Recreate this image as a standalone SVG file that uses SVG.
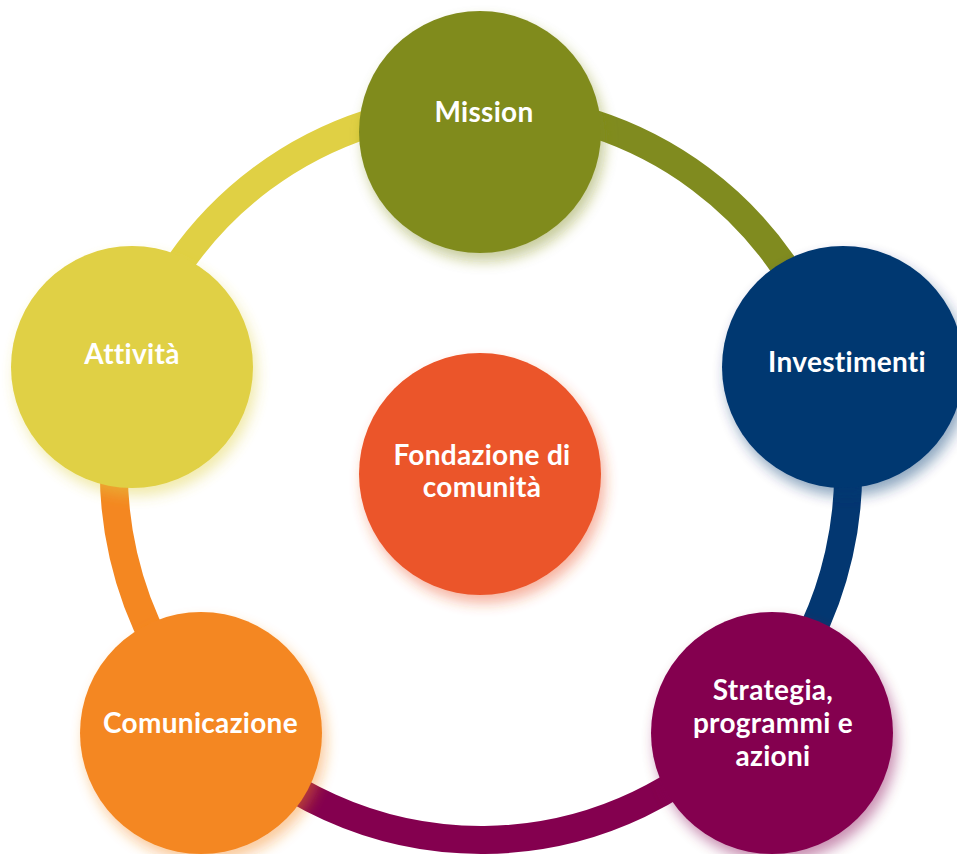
<svg xmlns="http://www.w3.org/2000/svg" width="957" height="854" viewBox="0 0 957 854">
  <defs>
    <filter id="glow" x="-30%" y="-30%" width="160%" height="160%">
      <feGaussianBlur in="SourceGraphic" stdDeviation="7" result="b"/>
      <feOffset in="b" dx="4" dy="8" result="o"/>
      <feComponentTransfer in="o" result="s">
        <feFuncA type="linear" slope="0.45"/>
      </feComponentTransfer>
      <feMerge>
        <feMergeNode in="s"/>
        <feMergeNode in="SourceGraphic"/>
      </feMerge>
    </filter>
  </defs>
  <style>
    .seg { fill: none; stroke-width: 28; stroke-linecap: butt; }
    .node { filter: url(#glow); }
    .lbl { font-family: Lato, "Open Sans", "Liberation Sans", sans-serif; font-weight: 700; font-size: 28px; letter-spacing: 0.3px; font-variant-ligatures: none; fill: #ffffff; text-anchor: middle; }
  </style>
  <rect width="957" height="854" fill="#ffffff"/>
  <g id="connectors">
    <path class="seg" stroke="#E0D044" d="M129.9,366.3 A367,367 0 0 1 479.7,106"/>
    <path class="seg" stroke="#808B1F" d="M479.7,106 A367,367 0 0 1 833.2,370"/>
    <path class="seg" stroke="#033771" d="M833.2,370 A367,367 0 0 1 754.6,717.6"/>
    <path class="seg" stroke="#84004F" d="M754.6,717.6 A367,367 0 0 1 212.2,722.8"/>
    <path class="seg" stroke="#F48721" d="M212.2,722.8 A367,367 0 0 1 129.9,366.3"/>
  </g>
  <g id="mission">
    <circle class="node" cx="480" cy="132" r="121" fill="#808B1F"/>
    <text class="lbl" x="484" y="122">Mission</text>
  </g>
  <g id="investimenti">
    <circle class="node" cx="843" cy="367" r="121" fill="#033771"/>
    <text class="lbl" x="847" y="372">Investimenti</text>
  </g>
  <g id="strategia">
    <circle class="node" cx="772" cy="733" r="121" fill="#84004F"/>
    <text class="lbl" x="773" y="700">Strategia,</text>
    <text class="lbl" x="773" y="733">programmi e</text>
    <text class="lbl" x="773" y="766">azioni</text>
  </g>
  <g id="comunicazione">
    <circle class="node" cx="201" cy="733" r="121" fill="#F48721"/>
    <text class="lbl" x="200.5" y="733">Comunicazione</text>
  </g>
  <g id="attivita">
    <circle class="node" cx="132" cy="367" r="121" fill="#E0D044"/>
    <text class="lbl" x="132" y="364">Attività</text>
  </g>
  <g id="fondazione">
    <circle class="node" cx="480" cy="474" r="121" fill="#EB542A"/>
    <text class="lbl" x="482" y="465">Fondazione di</text>
    <text class="lbl" x="482" y="497">comunità</text>
  </g>
</svg>
